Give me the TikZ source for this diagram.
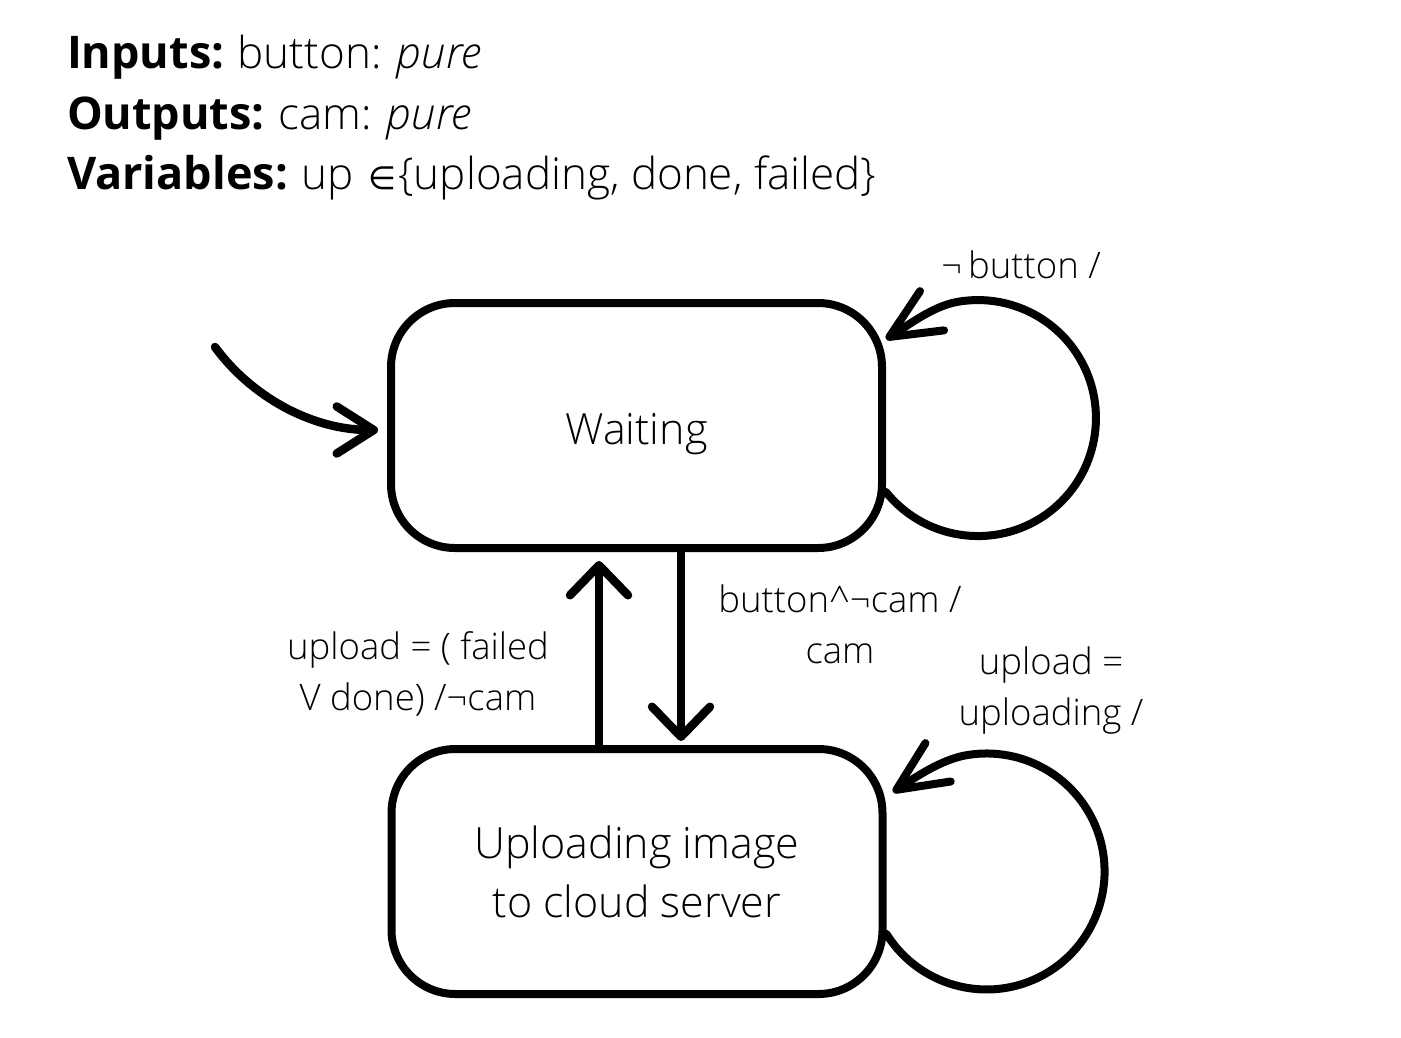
\documentclass[tikz,border=0pt]{standalone}
\usepackage{fontspec}
\setmainfont{Open Sans}[UprightFont=* Light, ItalicFont=* Light Italic, BoldFont=* Bold]
\newfontfamily\symfnt{DejaVu Sans}
\usetikzlibrary{arrows.meta}
\newcommand{\hdb}[1]{{\fontsize{45}{50}\selectfont\bfseries #1}\hspace{13.5pt}}
\begin{document}
\begin{tikzpicture}[x=1pt,y=-1pt, line width=8pt, line cap=round, line join=round,
  state/.style={draw, rounded corners=64pt, minimum width=491pt, minimum height=245pt, inner sep=0pt, font=\fontsize{43}{59}\selectfont, align=center},
  lbl/.style={font=\fontsize{36.5}{51}\selectfont, align=center, inner sep=0pt},
  hdr/.style={font=\fontsize{44}{50}\selectfont, anchor=base west, inner sep=0pt},
  arrS/.style={line width=8.5pt, -{Straight Barb[length=30pt,width=58pt,line width=8.5pt,round]}},
  arrI/.style={line width=8.5pt, -{Straight Barb[length=37pt,width=47pt,line width=8.5pt,round]}},
  arrL/.style={-{Straight Barb[length=50pt,width=46pt,line width=8pt,round]}}]
\useasboundingbox (0,0) rectangle (1401,1037);
% header
\node[hdr] (h1) at (63,68) {\hdb{Inputs:}button: \textit{pure}};
\node[hdr] (h2) at (63,129) {\hdb{Outputs:}cam: \textit{pure}};
\node[hdr] (h3) at (63,189) {\hdb{Variables:}up\hspace{15pt}{\symfnt\fontsize{32}{40}\selectfont ∈}\hspace{2pt}\{uploading, done, failed\}};
% states
\node[state, text height=38pt, text depth=0pt] (wait) at (636.5,425.5) {Waiting};
\node[state] (upl) at (637,871.5) {Uploading image\\ to cloud server};
% initial
\coordinate (init) at (215,347);
\draw[arrI, shorten >=9pt] (init) .. controls (250,395) and (310,430) .. (wait.west |- 0,430);
% transitions between states
\draw[arrS, shorten >=9pt] (upl.north -| 599,0) -- (wait.south -| 599,0);
\draw[arrS, shorten >=4pt] (wait.south -| 681,0) -- (upl.north -| 681,0);
% self loops
\coordinate (t1) at (886,339);
\coordinate (t2) at (893,792);
\draw[arrL] (wait.east |- 0,492) arc[start angle=141.2, end angle=-100, radius=118]
  .. controls +(-25,4.4) and +(22,-13.5) .. (t1);
\draw[arrL] (upl.east |- 0,934) arc[start angle=148, end angle=-100, radius=118]
  .. controls +(-25,4.4) and +(22,-14.5) .. (t2);
% labels
\node[lbl] (l1) at (1021,265) {¬\,button /};
\node[lbl] (l2) at (840,624) {button\textasciicircum¬cam /\\cam};
\node[lbl] (l3) at (418,674) {upload = ( failed\\V done) /¬cam};
\node[lbl] (l4) at (1051,691) {upload =\\uploading /};
\end{tikzpicture}
\end{document}
